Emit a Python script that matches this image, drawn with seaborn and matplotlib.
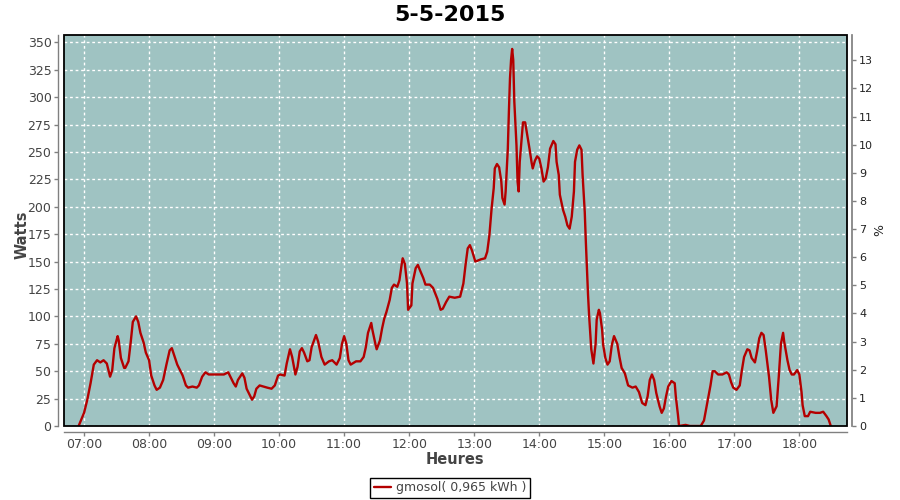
"""
plot.py
-------
Daily solar production curve (gmosol, 5-5-2015), saved to out.png.
"""

import matplotlib

matplotlib.use("Agg")  # render to file, no display needed
import matplotlib.dates as mdates
import matplotlib.pyplot as plt
import pandas as pd
import seaborn as sns
from matplotlib.patches import Rectangle

DAY = "2015-05-05"
TITLE = "5-5-2015"
SERIES_LABEL = "gmosol( 0,965 kWh )"

# readings (time of day, watts) taken off the reference curve
TIMES = [
    "06:55", "07:00", "07:03", "07:06", "07:09", "07:12", "07:15", "07:18", "07:21", "07:24",
    "07:26", "07:28", "07:31", "07:32", "07:34", "07:37", "07:38", "07:41", "07:43", "07:45",
    "07:48", "07:50", "07:52", "07:55", "07:57", "08:00", "08:02", "08:05", "08:07", "08:10",
    "08:13", "08:16", "08:19", "08:21", "08:23", "08:26", "08:29", "08:31", "08:34", "08:36",
    "08:40", "08:44", "08:46", "08:49", "08:52", "08:55", "08:59", "09:09", "09:13", "09:15",
    "09:18", "09:20", "09:22", "09:26", "09:28", "09:30", "09:33", "09:35", "09:37", "09:39",
    "09:42", "09:49", "09:53", "09:56", "09:59", "10:01", "10:05", "10:07", "10:10", "10:12",
    "10:15", "10:17", "10:19", "10:21", "10:23", "10:26", "10:28", "10:30", "10:34", "10:36",
    "10:39", "10:42", "10:46", "10:49", "10:53", "10:56", "10:58", "11:00", "11:02", "11:04",
    "11:06", "11:11", "11:15", "11:18", "11:20", "11:22", "11:25", "11:26", "11:29", "11:30",
    "11:33", "11:35", "11:37", "11:39", "11:42", "11:44", "11:46", "11:49", "11:51", "11:53",
    "11:54", "11:56", "11:58", "11:59", "12:02", "12:03", "12:06", "12:08", "12:10", "12:13",
    "12:15", "12:19", "12:22", "12:26", "12:29", "12:31", "12:34", "12:37", "12:42", "12:47",
    "12:50", "12:52", "12:54", "12:56", "12:58", "13:01", "13:06", "13:10", "13:12", "13:14",
    "13:16", "13:18", "13:19", "13:21", "13:23", "13:25", "13:26", "13:28", "13:29", "13:31",
    "13:32", "13:33", "13:34", "13:35", "13:36", "13:37", "13:39", "13:40", "13:41", "13:42",
    "13:44", "13:45", "13:47", "13:49", "13:51", "13:53", "13:54", "13:56", "13:58", "14:00",
    "14:02", "14:04", "14:06", "14:08", "14:10", "14:13", "14:15", "14:16", "14:18", "14:19",
    "14:22", "14:24", "14:26", "14:28", "14:30", "14:32", "14:33", "14:35", "14:37", "14:39",
    "14:40", "14:42", "14:43", "14:44", "14:45", "14:46", "14:47", "14:48", "14:50", "14:52",
    "14:53", "14:55", "14:56", "14:58", "14:59", "15:01", "15:03", "15:05", "15:07", "15:09",
    "15:12", "15:14", "15:16", "15:19", "15:22", "15:26", "15:29", "15:32", "15:35", "15:38",
    "15:40", "15:42", "15:44", "15:46", "15:48", "15:51", "15:53", "15:55", "15:57", "15:59",
    "16:02", "16:05", "16:06", "16:08", "16:09", "16:15", "16:19", "16:29", "16:32", "16:35",
    "16:38", "16:40", "16:42", "16:45", "16:49", "16:53", "16:55", "16:57", "16:59", "17:02",
    "17:05", "17:07", "17:09", "17:12", "17:14", "17:16", "17:19", "17:21", "17:23", "17:25",
    "17:27", "17:29", "17:32", "17:34", "17:36", "17:39", "17:41", "17:43", "17:45", "17:46",
    "17:49", "17:51", "17:53", "17:55", "17:58", "18:00", "18:02", "18:03", "18:05", "18:08",
    "18:10", "18:15", "18:19", "18:22", "18:25", "18:27", "18:29",
]
WATTS = [
    0, 12, 24, 39, 56, 60, 58, 60, 57, 45,
    51, 71, 82, 78, 62, 53, 53, 59, 76, 95,
    100, 95, 85, 76, 67, 60, 46, 37, 33, 35,
    42, 56, 69, 71, 65, 56, 50, 46, 37, 35,
    36, 35, 37, 45, 49, 47, 47, 47, 49, 45,
    39, 36, 42, 48, 44, 34, 28, 24, 27, 34,
    37, 35, 34, 37, 46, 47, 46, 57, 70, 63,
    47, 54, 68, 71, 67, 59, 60, 72, 83, 77,
    63, 56, 59, 60, 56, 62, 75, 82, 75, 60,
    56, 59, 59, 63, 72, 85, 94, 88, 74, 70,
    78, 89, 98, 104, 115, 126, 129, 127, 133, 147,
    153, 148, 130, 106, 110, 130, 144, 147, 142, 135,
    129, 129, 126, 116, 106, 107, 113, 118, 117, 118,
    130, 147, 162, 165, 160, 150, 152, 153, 159, 174,
    198, 217, 235, 239, 236, 223, 208, 202, 214, 253,
    287, 317, 334, 344, 334, 296, 256, 223, 214, 241,
    265, 277, 277, 265, 253, 240, 235, 242, 246, 244,
    235, 223, 226, 236, 253, 260, 257, 241, 229, 211,
    197, 191, 183, 180, 191, 214, 241, 252, 256, 252,
    229, 195, 168, 144, 120, 101, 86, 70, 57, 75,
    97, 106, 103, 88, 74, 62, 56, 59, 74, 82,
    75, 63, 53, 48, 37, 35, 36, 31, 21, 19,
    27, 42, 47, 42, 30, 18, 12, 16, 27, 36,
    41, 39, 27, 10, 0, 1, 0, 0, 5, 21,
    37, 50, 50, 47, 47, 49, 47, 40, 35, 33,
    37, 51, 63, 70, 69, 62, 58, 68, 80, 85,
    83, 69, 45, 24, 12, 18, 45, 75, 85, 77,
    60, 51, 47, 47, 51, 47, 31, 19, 9, 9,
    13, 12, 12, 13, 9, 6, 0,
]

WATT_TICKS = list(range(0, 351, 25))
PCT_TICKS = list(range(0, 14))
WATTS_PER_PCT = 25.66  # right-axis scale
Y_MAX = 356.7

BG = "#9FC3C2"
LINE = "#B40000"
GREY = "#808080"
TEXT = "#444444"


def main() -> None:
    df = pd.DataFrame({
        "time": pd.to_datetime([f"{DAY} {t}" for t in TIMES]),
        "watts": WATTS,
    })

    sns.set_theme(style="white")
    plt.rcParams["font.family"] = ["DejaVu Sans"]

    fig = plt.figure(figsize=(9, 5), dpi=100)
    ax = fig.add_axes([64 / 900, 74 / 500, 782.5 / 900, 391 / 500])
    ax.set_facecolor(BG)

    sns.lineplot(data=df, x="time", y="watts", ax=ax, color=LINE,
                 linewidth=1.7, label=SERIES_LABEL, zorder=3)

    ax.set_xlim(pd.Timestamp(f"{DAY} 06:41:30"), pd.Timestamp(f"{DAY} 18:43:30"))
    ax.set_ylim(0, Y_MAX)
    ax.set_yticks(WATT_TICKS)
    ax.xaxis.set_major_locator(mdates.HourLocator())
    ax.xaxis.set_major_formatter(mdates.DateFormatter("%H:%M"))
    ax.set_xlabel("")
    ax.set_ylabel("")

    ax.grid(True, color="white", linestyle=(0, (2, 2)), linewidth=1)
    ax.set_axisbelow(True)

    for side in ("top", "right"):
        ax.spines[side].set_visible(False)
    for side in ("left", "bottom"):
        ax.spines[side].set_position(("outward", 4))
        ax.spines[side].set_color(GREY)
        ax.spines[side].set_linewidth(1)
    ax.tick_params(axis="both", direction="out", length=3, width=1,
                   color=GREY, labelcolor=TEXT, labelsize=9, pad=2,
                   bottom=True, left=True)

    ax2 = ax.twinx()
    ax2.set_ylim(0, Y_MAX / WATTS_PER_PCT)
    ax2.set_yticks(PCT_TICKS)
    for side in ("top", "left", "bottom"):
        ax2.spines[side].set_visible(False)
    ax2.spines["right"].set_position(("outward", 4))
    ax2.spines["right"].set_color(GREY)
    ax2.tick_params(axis="y", direction="out", length=3, width=1,
                    color=GREY, labelcolor="#222222", labelsize=8, pad=2, right=True)
    ax2.grid(False)

    # black plot border, sits inside the offset axis lines
    ax2.add_patch(Rectangle((0, 0), 1, 1, transform=ax.transAxes, fill=False,
                            edgecolor="black", linewidth=1.3, zorder=5, clip_on=False))

    fig.suptitle(TITLE, x=450 / 900, y=1 - 15 / 500, va="center",
                 fontsize=16, fontweight="bold", color="black")
    fig.text(22 / 900, 1 - 235 / 500, "Watts", rotation=90, ha="center", va="center",
             fontsize=10.5, fontweight="bold", color=TEXT)
    fig.text(455 / 900, 1 - 460 / 500, "Heures", ha="center", va="center",
             fontsize=10.5, fontweight="bold", color=TEXT)
    fig.text(880 / 900, 1 - 230 / 500, "%", rotation=90, ha="center", va="center",
             fontsize=9, color="#222222")

    handles, labels = ax.get_legend_handles_labels()
    ax.get_legend().remove()
    leg = fig.legend(handles, labels, loc="center", bbox_to_anchor=(450 / 900, 1 - 488 / 500),
                     fancybox=False, framealpha=1, edgecolor="black", fontsize=9,
                     handlelength=1.4, handletextpad=0.4, borderpad=0.25,
                     borderaxespad=0)
    leg.get_frame().set_linewidth(1)
    for text in leg.get_texts():
        text.set_color(TEXT)

    fig.savefig("out.png", dpi=100)
    plt.close(fig)


if __name__ == "__main__":
    main()
